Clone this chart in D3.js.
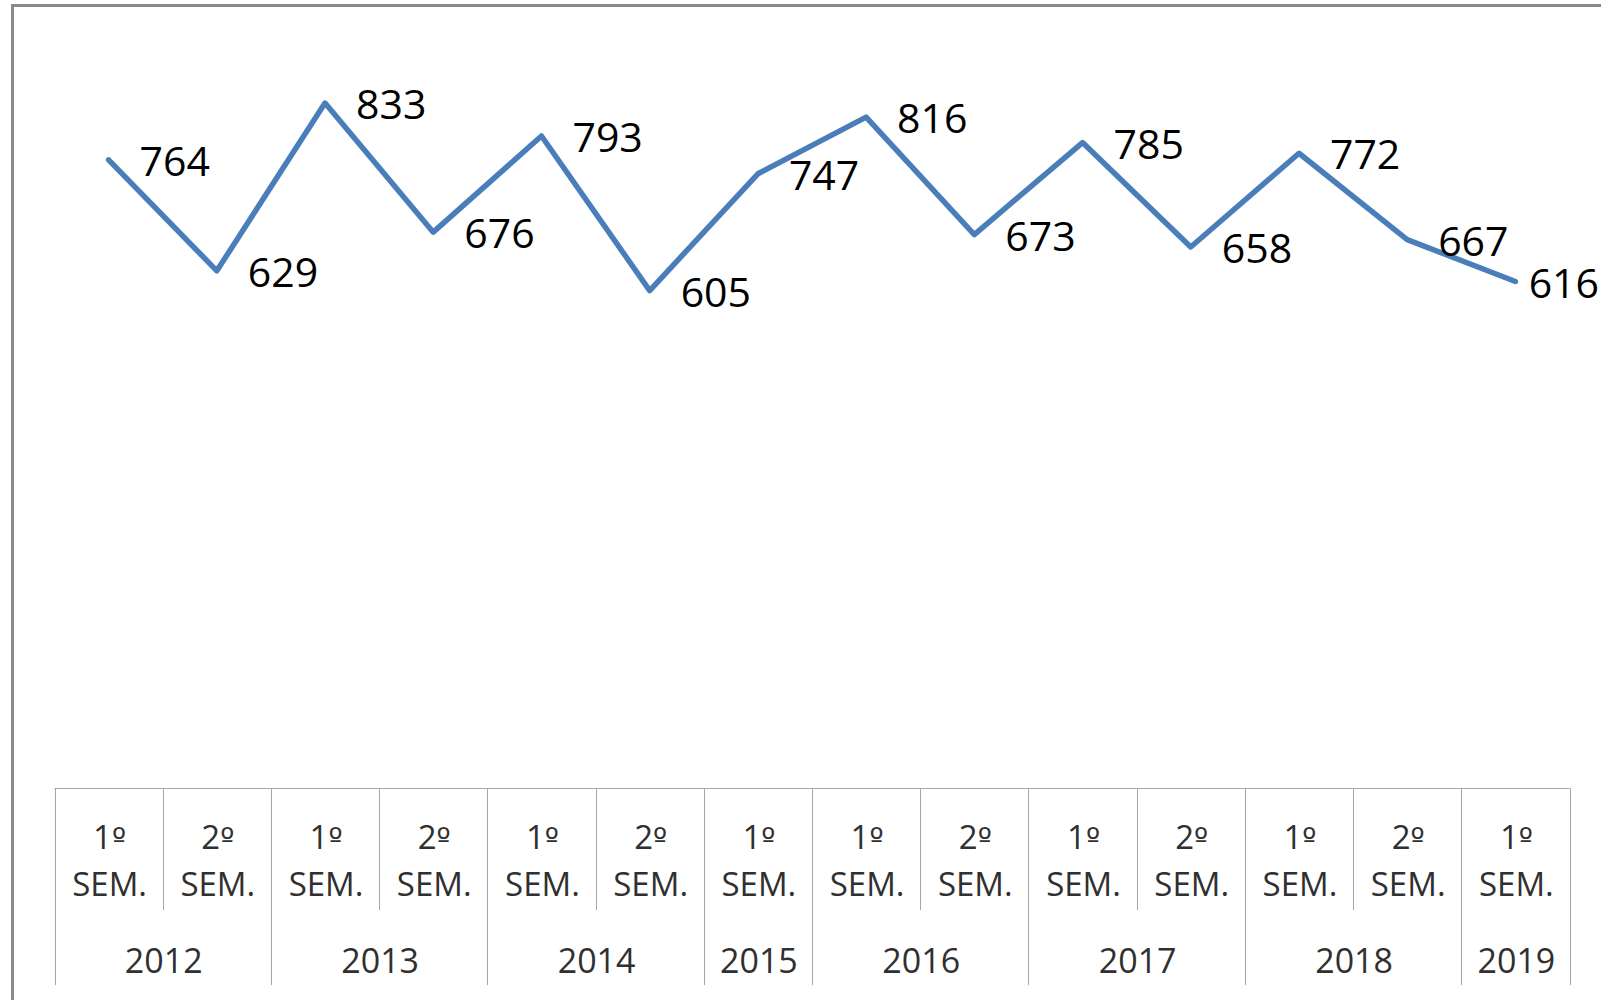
<!DOCTYPE html>
<html>
<head>
<meta charset="utf-8">
<script src="https://cdn.jsdelivr.net/npm/d3@7"></script>
<style>
  body { margin: 0; background: #fff; }
  text { font-family: "Open Sans", sans-serif; }
</style>
</head>
<body>
<div id="chart"></div>
<script>
// semester labels, one per point
var semesters = ["1º","2º","1º","2º","1º","2º","1º","1º","2º","1º","2º","1º","2º","1º"];
var values = [764, 629, 833, 676, 793, 605, 747, 816, 673, 785, 658, 772, 667, 616];
// year groups on the axis and how many semesters each covers
var years = ["2012","2013","2014","2015","2016","2017","2018","2019"];
var yearSpan = [2, 2, 2, 1, 2, 2, 2, 1];

var W = 1601, H = 1000;
var axisTop = 788;

var svg = d3.select('#chart').append('svg')
    .attr('width', W)
    .attr('height', H);

// chart area border (only top and left show in the crop)
svg.append('path')
    .attr('d', 'M12.5,' + H + 'V5.5H' + W)
    .attr('fill', 'none')
    .attr('stroke', '#8a8a8a')
    .attr('stroke-width', 3);

var x = d3.scaleBand()
    .domain(d3.range(values.length))
    .range([54.5, 1569.5])
    .padding(0);

var y = d3.scaleLinear()
    .domain([0, 900])
    .range([axisTop, 48]);

// category axis drawn as a table
var ax = svg.append('g').attr('class', 'xAxis');
var gridColor = '#a6a6a6';
var axisText = '#303030';

ax.append('line')
    .attr('x1', x.range()[0]).attr('x2', x.range()[1])
    .attr('y1', axisTop + 0.5).attr('y2', axisTop + 0.5)
    .attr('stroke', gridColor);

// year boundaries
var bounds = [0];
yearSpan.forEach(function(n, i){ bounds.push(bounds[i] + n); });
var yearEdges = bounds.map(function(b){
    return b < values.length ? x(b) : x.range()[1];
});

ax.selectAll('.yline')
    .data(yearEdges)
    .enter().append('line')
    .attr('class', 'yline')
    .attr('x1', function(d){ return Math.round(d) + 0.5; })
    .attr('x2', function(d){ return Math.round(d) + 0.5; })
    .attr('y1', axisTop)
    .attr('y2', 985)
    .attr('stroke', gridColor);

// semester boundaries inside a year
var inner = [];
bounds.forEach(function(b, i){
    if (i < yearSpan.length) {
        for (var k = 1; k < yearSpan[i]; k++) inner.push(b + k);
    }
});
ax.selectAll('.sline')
    .data(inner)
    .enter().append('line')
    .attr('class', 'sline')
    .attr('x1', function(d){ return Math.round(x(d)) + 0.5; })
    .attr('x2', function(d){ return Math.round(x(d)) + 0.5; })
    .attr('y1', axisTop)
    .attr('y2', 910)
    .attr('stroke', gridColor);

var cx = function(i){ return x(i) + x.bandwidth() / 2 + 1; };

var semText = ax.selectAll('.sem')
    .data(semesters)
    .enter().append('text')
    .attr('class', 'sem')
    .attr('text-anchor', 'middle')
    .attr('fill', axisText)
    .style('font-size', '33px');
// number + ordinal sign (DejaVu draws the º with its bar)
var first = semText.append('tspan')
    .attr('x', function(d, i){ return cx(i); })
    .attr('y', 849);
first.append('tspan').text(function(d){ return d.charAt(0); });
first.append('tspan')
    .style('font-family', '"DejaVu Sans", sans-serif')
    .style('font-size', '30px')
    .text(function(d){ return d.slice(1); });
semText.append('tspan')
    .attr('x', function(d, i){ return cx(i); })
    .attr('y', 896)
    .text('SEM.');

ax.selectAll('.year')
    .data(years)
    .enter().append('text')
    .attr('class', 'year')
    .attr('text-anchor', 'middle')
    .attr('fill', axisText)
    .style('font-size', '34px')
    .attr('x', function(d, i){ return (yearEdges[i] + yearEdges[i + 1]) / 2 + 1; })
    .attr('y', 973)
    .text(function(d){ return d; });

// the series
var line = d3.line()
    .x(function(d, i){ return x(i) + x.bandwidth() / 2; })
    .y(function(d){ return y(d); });

svg.append('path')
    .datum(values)
    .attr('d', line)
    .attr('fill', 'none')
    .attr('stroke', '#4a7ebb')
    .attr('stroke-width', 5.5)
    .attr('stroke-linejoin', 'round')
    .attr('stroke-linecap', 'round');

svg.selectAll('.lbl')
    .data(values)
    .enter().append('text')
    .attr('class', 'lbl')
    .attr('y', function(d){ return y(d) + 16; })
    .attr('fill', '#000')
    .style('font-size', '41px')
    .text(function(d){ return d; })
    .attr('x', function(d, i){
        // keep the label inside the picture, like the last one in the reference
        var w = this.getComputedTextLength();
        return Math.min(x(i) + x.bandwidth() / 2 + 31, W - w - 2);
    });
</script>
</body>
</html>
